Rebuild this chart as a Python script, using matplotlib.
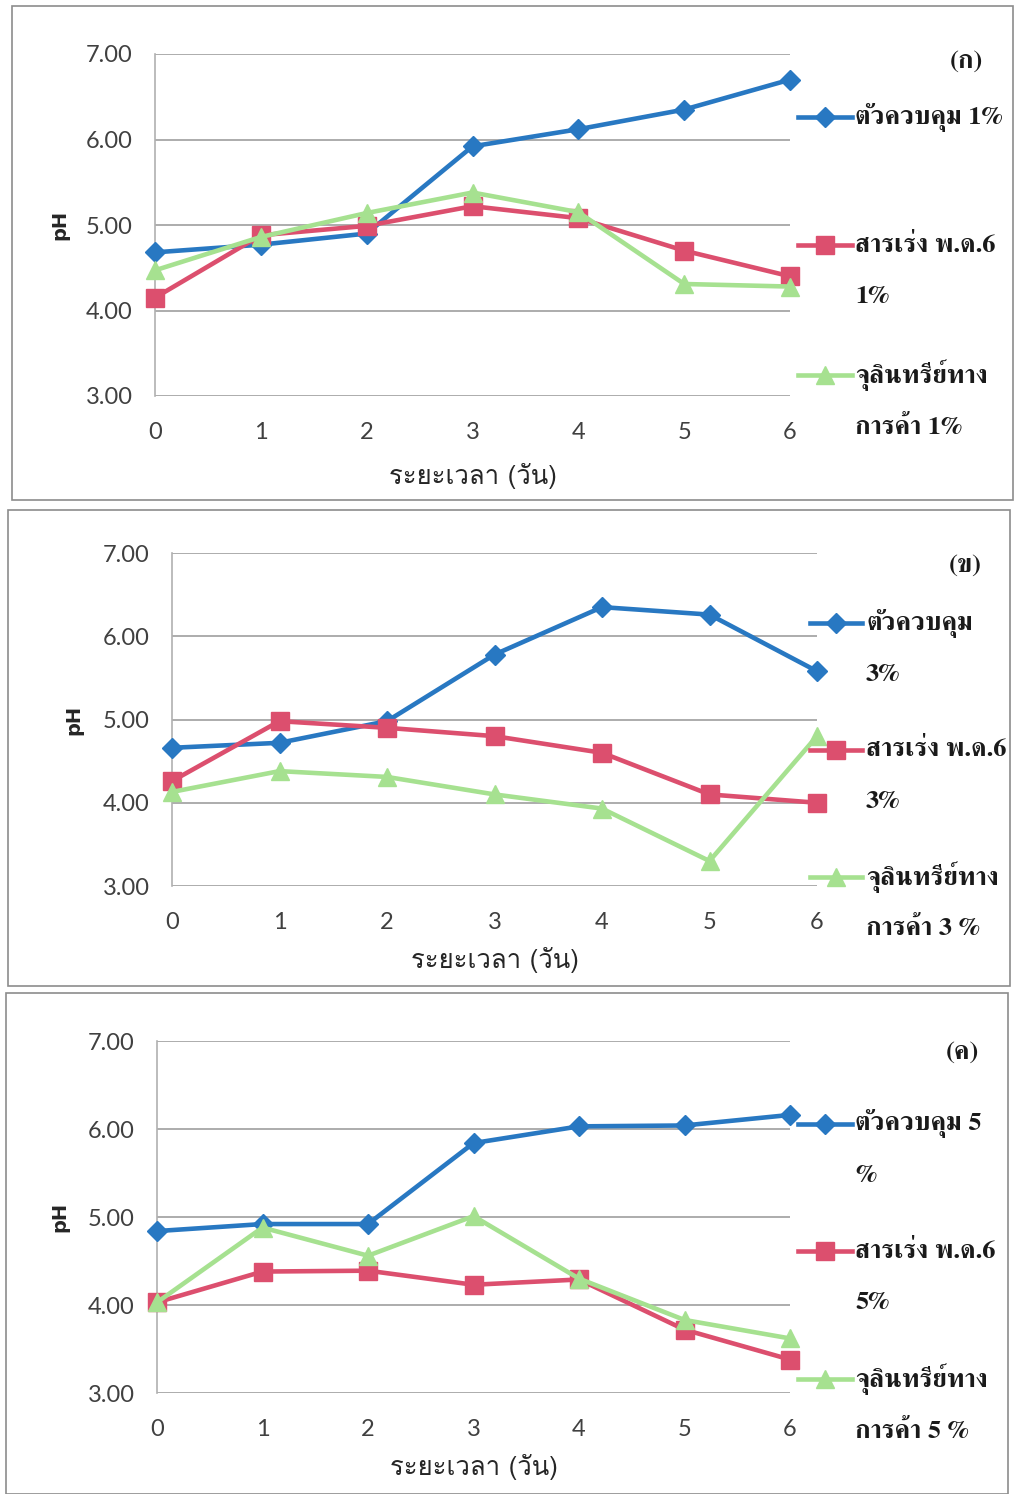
import matplotlib
matplotlib.use("Agg")
import matplotlib.pyplot as plt
from matplotlib import font_manager
from matplotlib.ft2font import FT2Font
from matplotlib.lines import Line2D
from matplotlib.patches import Rectangle

# ---- data -------------------------------------------------------------
days = [0, 1, 2, 3, 4, 5, 6]

control_1 = [4.68, 4.77, 4.90, 5.92, 6.12, 6.35, 6.70]
accel_1 = [4.15, 4.88, 4.99, 5.22, 5.08, 4.70, 4.40]
commercial_1 = [4.47, 4.86, 5.14, 5.38, 5.15, 4.31, 4.28]

control_3 = [4.66, 4.72, 4.98, 5.78, 6.35, 6.26, 5.58]
accel_3 = [4.26, 4.98, 4.90, 4.80, 4.60, 4.10, 4.00]
commercial_3 = [4.13, 4.38, 4.31, 4.10, 3.93, 3.30, 4.80]

control_5 = [4.84, 4.92, 4.92, 5.84, 6.03, 6.04, 6.16]
accel_5 = [4.03, 4.38, 4.39, 4.23, 4.29, 3.72, 3.38]
commercial_5 = [4.03, 4.88, 4.56, 5.01, 4.30, 3.83, 3.62]

labels_1 = ["ตัวควบคุม 1%", "สารเร่ง พ.ด.6\n1%", "จุลินทรีย์ทาง\nการค้า 1%"]
labels_3 = ["ตัวควบคุม\n3%", "สารเร่ง พ.ด.6\n3%", "จุลินทรีย์ทาง\nการค้า 3 %"]
labels_5 = ["ตัวควบคุม 5\n%", "สารเร่ง พ.ด.6\n5%", "จุลินทรีย์ทาง\nการค้า 5 %"]
panel_tags = ["(ก)", "(ข)", "(ค)"]

y_ticks = [3.0, 4.0, 5.0, 6.0, 7.0]
x_label = "ระยะเวลา (วัน)"
y_label = "pH"


# ---- fonts: find families that can draw Thai --------------------------
def thai_families():
    serif, sans = [], []
    seen = set()
    for f in font_manager.fontManager.ttflist:
        if f.fname in seen:
            continue
        seen.add(f.fname)
        try:
            cmap = FT2Font(f.fname).get_charmap()
        except Exception:
            continue
        if 0x0E01 in cmap and 0x0E27 in cmap:
            name = f.name
            low = name.lower()
            if "serif" in low and "sans" not in low or "looped" in low:
                serif.append(name)
            else:
                sans.append(name)
    return serif, sans


serif_thai, sans_thai = thai_families()
sans_list = list(dict.fromkeys(sans_thai + serif_thai)) + ["Lato", "DejaVu Sans"]
serif_list = list(dict.fromkeys(serif_thai + sans_thai)) + ["Liberation Serif", "DejaVu Serif"]

W, H = 1016, 1494
fig = plt.figure(figsize=(W / 100, H / 100), dpi=100)

BLUE = "#2878c2"
RED = "#dc4f6e"
GREEN = "#a6e190"
GRID = "#a6a6a6"
TICK = "#404040"


def fbox(l, t, r, b):
    return [l / W, 1 - b / H, (r - l) / W, (b - t) / H]


panels = [
    dict(frame=(12, 6, 1013, 500), axes=(155, 54, 790, 396),
         series=(control_1, accel_1, commercial_1), labels=labels_1,
         leg_x=(798, 852, 855), leg_y=(117, 245, 375), tag=(966, 62),
         ylab_x=60, xlab_y=476),
    dict(frame=(8, 510, 1010, 986), axes=(172, 553, 817, 886),
         series=(control_3, accel_3, commercial_3), labels=labels_3,
         leg_x=(810, 862, 866), leg_y=(623, 750, 877), tag=(965, 566),
         ylab_x=74, xlab_y=960),
    dict(frame=(6, 993, 1008, 1494), axes=(157, 1041, 790, 1393),
         series=(control_5, accel_5, commercial_5), labels=labels_5,
         leg_x=(798, 852, 855), leg_y=(1124, 1251, 1379), tag=(962, 1053),
         ylab_x=60, xlab_y=1467),
]

styles = [
    dict(color=BLUE, marker="D", ms=10),
    dict(color=RED, marker="s", ms=13),
    dict(color=GREEN, marker="^", ms=13),
]

for i, p in enumerate(panels):
    # panel frame
    l, t, r, b = p["frame"]
    fig.add_artist(Rectangle((l / W, 1 - b / H), (r - l) / W, (b - t) / H,
                             transform=fig.transFigure, fill=False,
                             edgecolor="#8c8c8c", linewidth=1.2))

    ax = fig.add_axes(fbox(*p["axes"]))
    for vals, st in zip(p["series"], styles):
        ax.plot(days, vals, color=st["color"], linewidth=3.3,
                marker=st["marker"], markersize=st["ms"],
                markerfacecolor=st["color"], markeredgecolor=st["color"],
                clip_on=False, zorder=3)

    ax.set_xlim(0, 6)
    ax.set_ylim(3, 7)
    ax.set_yticks(y_ticks)
    ax.set_yticklabels([f"{v:.2f}" for v in y_ticks], family=["Lato", "DejaVu Sans"],
                       fontsize=17, color=TICK)
    ax.set_xticks(days)
    ax.set_xticklabels([str(d) for d in days], family=["Lato", "DejaVu Sans"],
                       fontsize=17, color=TICK)
    ax.tick_params(axis="both", length=0)
    ax.tick_params(axis="y", pad=16)
    ax.tick_params(axis="x", pad=19)
    ax.grid(axis="y", color=GRID, linewidth=1.3)
    ax.set_axisbelow(True)
    for side in ("top", "right", "bottom"):
        ax.spines[side].set_visible(False)
    ax.spines["left"].set_color("#b0b0b0")
    ax.spines["left"].set_linewidth(1.2)

    # axis titles
    axl, axt, axr, axb = p["axes"]
    fig.text(p["ylab_x"] / W, 1 - ((axt + axb) / 2) / H, y_label, rotation=90,
             ha="center", va="center", fontsize=14, fontweight="bold",
             color="#262626", family=["DejaVu Sans"])
    fig.text(((axl + axr) / 2) / W, 1 - p["xlab_y"] / H, x_label,
             ha="center", va="center", fontsize=18.5, color="#262626",
             family=sans_list)

    # panel tag
    fig.text(p["tag"][0] / W, 1 - p["tag"][1] / H, panel_tags[i],
             ha="center", va="center", fontsize=19, fontweight="bold",
             color="#1a1a1a", family=serif_list)

    # legend keys and wrapped labels
    x0, x1, xt = p["leg_x"]
    for lab, st, yy in zip(p["labels"], styles, p["leg_y"]):
        yf = 1 - yy / H
        fig.add_artist(Line2D([x0 / W, x1 / W], [yf, yf], transform=fig.transFigure,
                              color=st["color"], linewidth=3.3))
        fig.add_artist(Line2D([(x0 + x1) / 2 / W], [yf], transform=fig.transFigure,
                              color=st["color"], marker=st["marker"],
                              markersize=st["ms"], linestyle="none"))
        for k, line in enumerate(lab.split("\n")):
            fig.text(xt / W, 1 - (yy + 52 * k) / H, line, ha="left", va="center",
                     fontsize=19, fontweight="bold", color="#1a1a1a",
                     family=serif_list)

fig.savefig("out.png", dpi=100, facecolor="white")
